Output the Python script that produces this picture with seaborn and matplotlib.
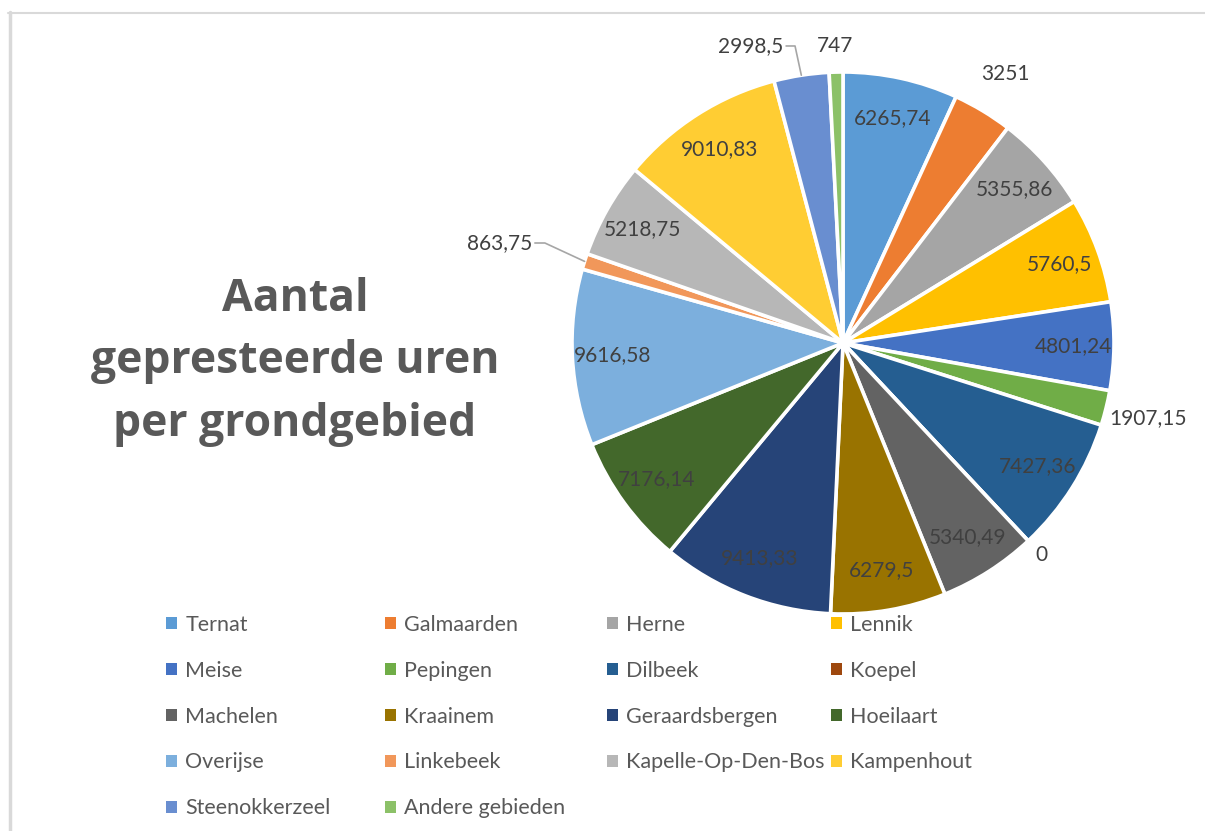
import numpy as np
import matplotlib
matplotlib.use("Agg")
import matplotlib.pyplot as plt
import seaborn as sns
from matplotlib.patches import Patch
from matplotlib.lines import Line2D

sns.set_theme(style="white")
plt.rcParams["font.family"] = ["Lato", "DejaVu Sans"]

# data
gebieden = [
    "Ternat", "Galmaarden", "Herne", "Lennik",
    "Meise", "Pepingen", "Dilbeek", "Koepel",
    "Machelen", "Kraainem", "Geraardsbergen", "Hoeilaart",
    "Overijse", "Linkebeek", "Kapelle-Op-Den-Bos", "Kampenhout",
    "Steenokkerzeel", "Andere gebieden",
]
uren = [
    6265.74, 3251, 5355.86, 5760.5,
    4801.24, 1907.15, 7427.36, 0,
    5340.49, 6279.5, 9413.33, 7176.14,
    9616.58, 863.75, 5218.75, 9010.83,
    2998.5, 747,
]
labels = [
    "6265,74", "3251", "5355,86", "5760,5",
    "4801,24", "1907,15", "7427,36", "0",
    "5340,49", "6279,5", "9413,33", "7176,14",
    "9616,58", "863,75", "5218,75", "9010,83",
    "2998,5", "747",
]

# excel office palette
colors = [
    "#5B9BD5", "#ED7D31", "#A5A5A5", "#FFC000", "#4472C4", "#70AD47",
    "#255E91", "#9E480E", "#636363", "#997300", "#264478", "#43682B",
    "#7CAFDD", "#F1975A", "#B7B7B7", "#FFCD33", "#698ED0", "#8CC168",
]

W, H = 1205, 831
fig = plt.figure(figsize=(W / 100, H / 100), dpi=100)

# light chart border (top + left)
fig.add_artist(Line2D([8 / W, 1], [1 - 12.5 / H, 1 - 12.5 / H], color="#d9d9d9", lw=1.5))
fig.add_artist(Line2D([9.5 / W, 9.5 / W], [0, 1 - 12 / H], color="#d9d9d9", lw=2.5))

cx, cy, r = 843, 343, 271
ax = fig.add_axes([(cx - r) / W, (H - cy - r) / H, 2 * r / W, 2 * r / H])

wedges, _ = ax.pie(
    uren,
    colors=colors,
    startangle=90,
    counterclock=False,
    wedgeprops=dict(edgecolor="white", linewidth=2.6),
)
ax.set_xlim(-1, 1)
ax.set_ylim(-1, 1)
ax.set_aspect("equal")
ax.axis("off")

outside = {"Galmaarden": 1.16, "Pepingen": 1.16, "Koepel": 1.07, "Andere gebieden": 1.095}
leaders = {
    "Steenokkerzeel": (-0.21, 1.096, -0.177),
    "Linkebeek": (-1.137, 0.369, -1.10),
}

for w, name, lab in zip(wedges, gebieden, labels):
    mid = np.deg2rad((w.theta1 + w.theta2) / 2)
    if name in leaders:
        tx, ty, kx = leaders[name]
        ex, ey = np.cos(mid), np.sin(mid)
        ax.plot([tx, kx, ex], [ty, ty, ey], color="#a6a6a6", lw=1.2, clip_on=False)
        ax.text(tx - 0.01, ty, lab, ha="right", va="center", fontsize=15, color="#404040")
        continue
    d = outside.get(name, 0.85)
    ax.text(d * np.cos(mid), d * np.sin(mid), lab, ha="center", va="center",
            fontsize=15, color="#404040")

fig.text(295 / W, 1 - 362 / H, "Aantal\ngepresteerde uren\nper grondgebied",
         ha="center", va="center", fontsize=32, fontweight="bold",
         color="#595959", linespacing=1.52, family=["Open Sans", "DejaVu Sans"])

# legend: 4 columns, row-major order
col_x = [166, 385, 607, 831]
for j in range(4):
    idx = list(range(j, len(gebieden), 4))
    handles = [Patch(facecolor=colors[i], edgecolor="none") for i in idx]
    fig.legend(
        handles, [gebieden[i] for i in idx],
        loc="upper left", bbox_to_anchor=(col_x[j] / W, 1 - 615 / H),
        frameon=False, fontsize=15.5, handlelength=0.5, handleheight=0.5,
        handletextpad=0.4, labelspacing=1.2, borderpad=0, borderaxespad=0,
        labelcolor="#595959",
    )

fig.savefig("out.png", dpi=100)
